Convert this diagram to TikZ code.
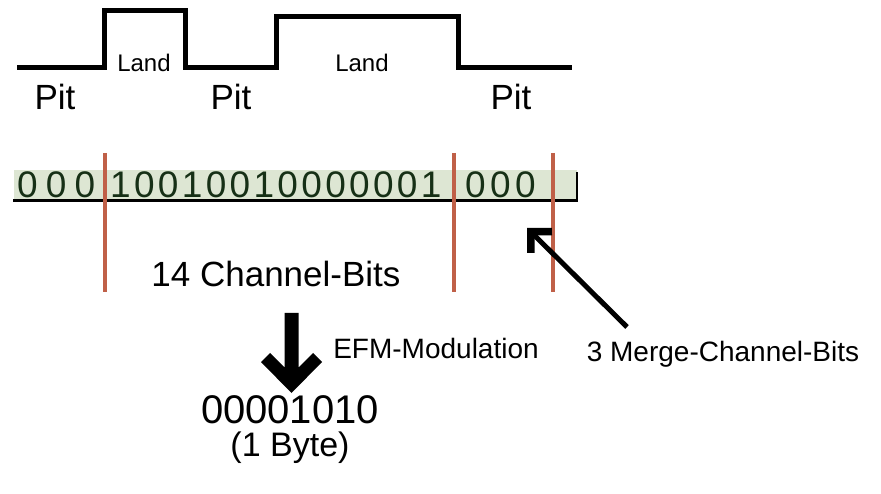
\documentclass[tikz,border=0pt]{standalone}
\usepackage{fontspec}
\setmainfont{Liberation Sans}
\usetikzlibrary{arrows.meta}
\definecolor{bandgreen}{RGB}{221,230,211}
\definecolor{bitgreen}{RGB}{22,48,22}
\definecolor{redline}{RGB}{192,96,72}
\newcommand{\fs}[1]{\fontsize{#1}{#1}\selectfont}
\begin{document}
\begin{tikzpicture}[x=1pt,y=-1pt,
  wave/.style={line width=5pt,line join=miter},
  lbl/.style={inner sep=0pt,anchor=base},
  bits/.style={inner sep=0pt,anchor=base west,text=bitgreen},
  divider/.style={draw=redline,line width=4.5pt},
  bigarrow/.style={fill=black,draw=none},
  mergearrow/.style={line width=5pt,-{Straight Barb[length=15pt,width=30pt,line width=7.5pt]}}]
\useasboundingbox (0,0) rectangle (881,494);
% waveform
\draw[wave] (17,68) -- (104,68) -- (104,11) -- (185,11) -- (185,68) -- (276,68) -- (276,17) -- (458,17) -- (458,68) -- (572,68);
\node[lbl,font=\fs{35}] (pit1) at (55,110) {Pit};
\node[lbl,font=\fs{35}] (pit2) at (231,110) {Pit};
\node[lbl,font=\fs{35}] (pit3) at (511,110) {Pit};
\node[lbl,font=\fs{24}] (land1) at (144,72) {Land};
\node[lbl,font=\fs{24}] (land2) at (362,72) {Land};
% bit band
\fill[bandgreen] (14,170) rectangle (577,201);
\node[bits,font=\fs{37}\addfontfeature{LetterSpace=22}] (g1) at (17,198) {000};
\node[bits,font=\fs{37}\addfontfeature{LetterSpace=9}] (g2) at (110,198) {10010010000001};
\node[bits,font=\fs{37}\addfontfeature{LetterSpace=12}] (g3) at (465,198) {000};
\draw[line width=3pt] (13,201) -- (578,201);
\draw[line width=2.5pt] (577,202) -- (577,172);
\draw[divider] (105,153) -- (105,292);
\draw[divider] (454,153) -- (454,292);
\draw[divider] (553,153) -- (553,292);
\node[lbl,font=\fs{35}] (chan) at (276,287) {14 Channel-Bits};
% big arrow
\fill[bigarrow] (284.5,313) -- (298.5,313) -- (298.5,367.5) -- (313,353) -- (322,362) -- (291.5,393) -- (261,362) -- (270,353) -- (284.5,367.5) -- cycle;
\node[lbl,font=\fs{28}] (efm) at (436,359) {EFM-Modulation};
\node[lbl,font=\fs{28}] (merge) at (723,362) {3 Merge-Channel-Bits};
\coordinate (mtail) at (627,327);
\coordinate (mtip) at (527,228);
\draw[mergearrow] (mtail) -- (mtip);
\node[lbl,font=\fs{40}] (byte) at (290,423) {00001010};
\node[lbl,font=\fs{34}] (onebyte) at (290,456) {(1 Byte)};
\end{tikzpicture}
\end{document}
